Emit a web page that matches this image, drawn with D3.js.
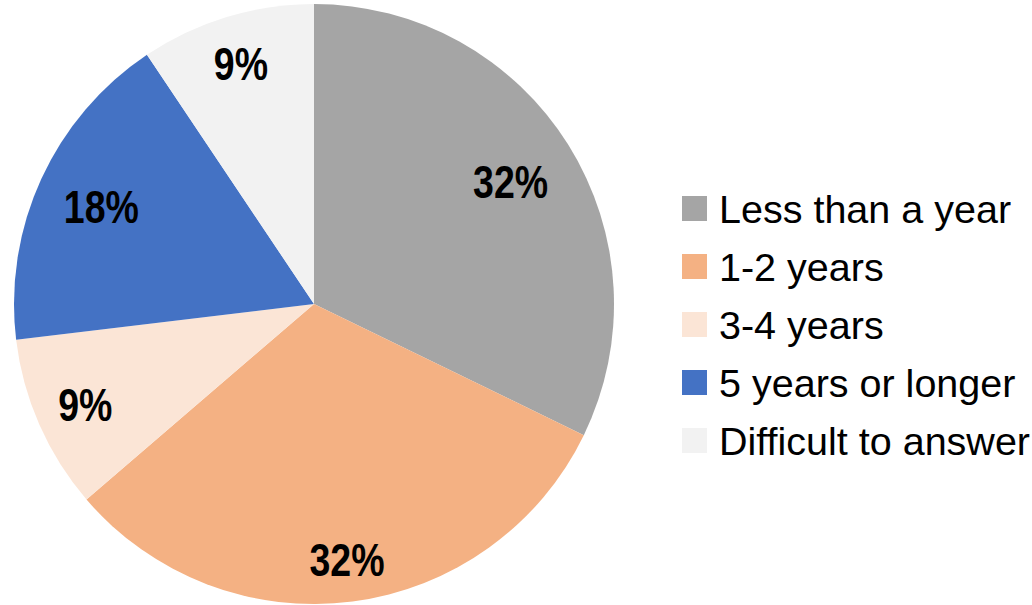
<!DOCTYPE html>
<html>
<head>
<meta charset="utf-8">
<script src="https://cdn.jsdelivr.net/npm/d3@7"></script>
<style>
  body { margin: 0; background: #fff; }
  svg text { font-family: "Liberation Sans", Arial, sans-serif; }
</style>
</head>
<body>
<div id="chart"></div>
<script>
// Data
const categories = ["Less than a year", "1-2 years", "3-4 years", "5 years or longer", "Difficult to answer"];
const values = [32.2, 31.5, 9.4, 17.5, 9.4];
const colors = ["#a5a5a5", "#f4b183", "#fbe5d6", "#4472c4", "#f2f2f2"];

// label distance from centre, as share of radius (Excel "best fit" look)
const labelPos = [0.773, 0.857, 0.833, 0.78, 0.837];

const WIDTH = 1032;
const HEIGHT = 605;
const cx = 314, cy = 304, R = 300;

const svg = d3
  .select("#chart")
  .append("svg")
  .attr("width", WIDTH)
  .attr("height", HEIGHT);

const pie = d3.pie().sort(null).value(d => d);
const arcs = pie(values);

const arc = d3.arc().innerRadius(0).outerRadius(R);

const g = svg.append("g").attr("transform", `translate(${cx}, ${cy})`);

g.selectAll("path")
  .data(arcs)
  .join("path")
  .attr("d", arc)
  .attr("fill", (d, i) => colors[i]);

// percent labels
g.selectAll("text")
  .data(arcs)
  .join("text")
  .attr("transform", (d, i) => {
    const a = (d.startAngle + d.endAngle) / 2;
    const r = R * labelPos[i];
    return `translate(${r * Math.sin(a)}, ${-r * Math.cos(a)}) scale(0.815, 1)`;
  })
  .attr("text-anchor", "middle")
  .attr("dy", "0.36em")
  .style("font-size", "46px")
  .style("font-weight", "bold")
  .style("fill", "#000")
  .text(d => Math.round(d.value) + "%");

// legend
const y = d3.scaleBand().domain(categories).range([180, 470]);

const legend = svg
  .append("g")
  .selectAll("g")
  .data(categories)
  .join("g")
  .attr("transform", d => `translate(682, ${y(d)})`);

legend
  .append("rect")
  .attr("x", 0)
  .attr("y", 16)
  .attr("width", 25)
  .attr("height", 25)
  .attr("fill", (d, i) => colors[i]);

legend
  .append("text")
  .attr("x", 37)
  .attr("y", 43)
  .style("font-size", "39.5px")
  .style("fill", "#000")
  .text(d => d);
</script>
</body>
</html>
